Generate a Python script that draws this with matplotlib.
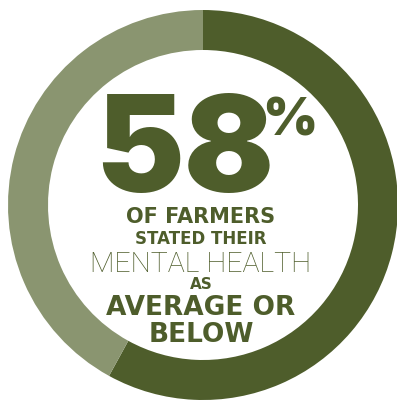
import matplotlib
matplotlib.use("Agg")
import matplotlib.pyplot as plt

# share of farmers rating their mental health average or below
shares = [58, 42]
ring_colors = ["#4e5d2b", "#8a9570"]
headline = "58"
lines = ["OF FARMERS", "STATED THEIR", "MENTAL HEALTH", "AS", "AVERAGE OR", "BELOW"]

W, H = 397, 401
fig = plt.figure(figsize=(W / 100, H / 100), dpi=100)
ax = fig.add_axes([0, 0, 1, 1])

ax.pie(shares, colors=ring_colors, startangle=90, counterclock=False,
       center=(203, H - 205), radius=195,
       wedgeprops=dict(width=40, linewidth=0))

ax.set_xlim(0, W)
ax.set_ylim(0, H)
ax.set_aspect("equal")
ax.axis("off")

dark = ring_colors[0]


def y(v):
    return H - v


ax.text(185, y(192), headline, fontsize=96, family="Inter", weight="black",
        color=dark, ha="center", va="baseline")
ax.text(290, y(135), "%", fontsize=38, family="Inter", weight="black",
        color=dark, ha="center", va="baseline")

# line: (baseline, fontsize, family, weight)
specs = [(223, 15, "DejaVu Sans", "bold"),
         (244, 12, "DejaVu Sans", "bold"),
         (272, 20.5, "Roboto", "light"),
         (289, 11, "DejaVu Sans", "bold"),
         (315, 19, "DejaVu Sans", "bold"),
         (342, 19, "DejaVu Sans", "bold")]
for text, (base, size, fam, weight) in zip(lines, specs):
    ax.text(201, y(base), text, fontsize=size, family=fam, weight=weight,
            color=dark, ha="center", va="baseline")

fig.savefig("out.png", dpi=100)
